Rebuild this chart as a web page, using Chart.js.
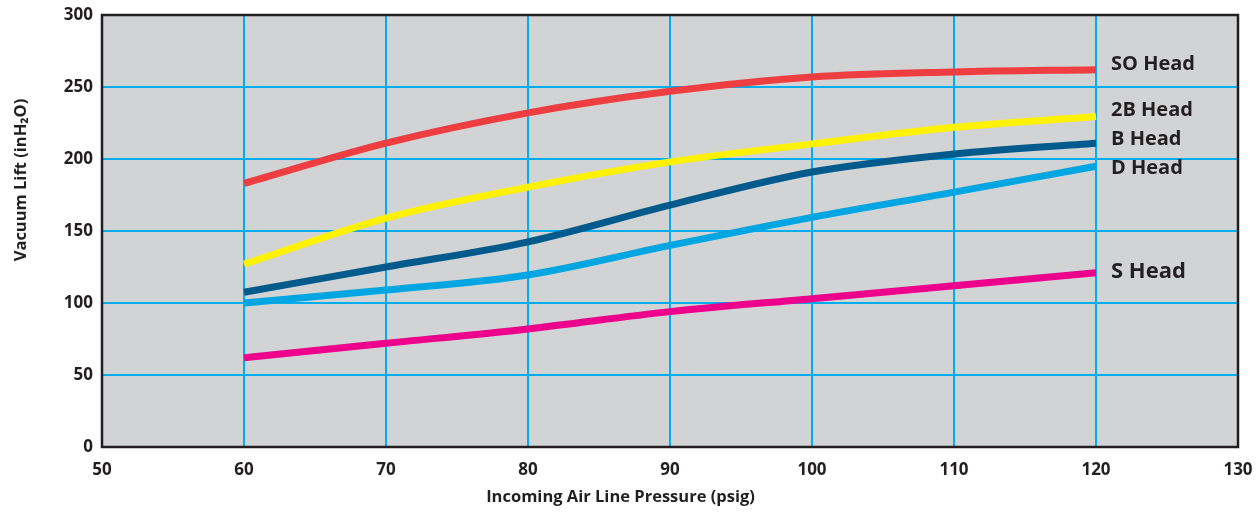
<!DOCTYPE html>
<html>
<head>
<meta charset="utf-8">
<script src="https://cdn.jsdelivr.net/npm/chart.js@4.4.1/dist/chart.umd.min.js"></script>
<style>
  html, body { margin: 0; padding: 0; background: #fff; }
  #wrap { width: 1257px; height: 512px; }
</style>
</head>
<body>
<div id="wrap"><canvas id="myChart"></canvas></div>
<script>
// pressure (psig)
const pressures = [60, 70, 80, 90, 100, 110, 120];

// vacuum lift (inH2O) per head
const soHead = [183, 211, 232, 247, 257, 260.5, 262];
const twoBHead = [127, 159, 180.5, 198, 210.5, 222, 229.5];
const bHead = [107.5, 125, 142.5, 168, 191, 203.5, 211];
const dHead = [100, 109, 119.5, 140, 159.5, 177, 195];
const sHead = [62, 72, 82, 94, 103, 112, 121];

const seriesNames = ['SO Head', '2B Head', 'B Head', 'D Head', 'S Head'];
const seriesColors = ['#ef3e42', '#fff200', '#005a8c', '#00a6e2', '#ec008c'];
// where the end labels sit, in inH2O
const labelValues = [266, 234, 214, 193.5, 122];

const xTicks = [50, 60, 70, 80, 90, 100, 110, 120, 130];
const yTicks = [0, 50, 100, 150, 200, 250, 300];

const xTitle = 'Incoming Air Line Pressure (psig)';
const yTitle = 'Vacuum Lift (inH₂O)';

const ink = '#231f20';
const gridBlue = '#00aeef';
const fontFamily = '"Open Sans", "DejaVu Sans", sans-serif';

const allSeries = [soHead, twoBHead, bHead, dHead, sHead];

const plotFrame = {
  id: 'plotFrame',
  beforeDraw(chart) {
    const { ctx, chartArea: a } = chart;
    ctx.save();
    ctx.fillStyle = '#d1d3d4';
    ctx.fillRect(a.left, a.top, a.right - a.left, a.bottom - a.top);
    ctx.restore();
  },
  afterDraw(chart) {
    const { ctx, chartArea: a, scales } = chart;
    ctx.save();
    ctx.strokeStyle = ink;
    ctx.lineWidth = 2.5;
    ctx.strokeRect(a.left, a.top, a.right - a.left, a.bottom - a.top);

    // end labels (S Head is set a bit larger in the original)
    ctx.fillStyle = ink;
    ctx.textBaseline = 'middle';
    ctx.textAlign = 'left';
    const x = scales.x.getPixelForValue(120) + 15;
    seriesNames.forEach((name, i) => {
      ctx.font = 'bold ' + (i === 4 ? 22 : 20) + 'px ' + fontFamily;
      ctx.fillText(name, x, scales.y.getPixelForValue(labelValues[i]));
    });

    // axis titles
    ctx.font = 'bold 16.5px ' + fontFamily;
    ctx.textAlign = 'center';
    ctx.fillText(xTitle, chart.width / 2 - 8, 497);
    ctx.translate(21, 180);
    ctx.rotate(-Math.PI / 2);
    ctx.fillText(yTitle, 0, 0);
    ctx.restore();
  }
};

document.addEventListener('DOMContentLoaded', () => {
  const ctx = document.getElementById('myChart').getContext('2d');

  new Chart(ctx, {
    type: 'line',
    data: {
      datasets: allSeries.map((vals, i) => ({
        label: seriesNames[i],
        data: pressures.map((p, j) => ({ x: p, y: vals[j] })),
        borderColor: seriesColors[i],
        borderWidth: 7,
        borderCapStyle: 'butt',
        pointRadius: 0,
        fill: false,
        cubicInterpolationMode: 'monotone'
      }))
    },
    options: {
      responsive: true,
      maintainAspectRatio: false,
      animation: false,
      layout: { padding: { top: 15, right: 19, left: 0, bottom: 0 } },
      plugins: {
        legend: { display: false },
        tooltip: { enabled: false }
      },
      scales: {
        x: {
          type: 'linear',
          min: 50,
          max: 130,
          afterBuildTicks: (scale) => { scale.ticks = xTicks.map(v => ({ value: v })); },
          afterFit: (scale) => {
            scale.height = 65;
            scale.paddingLeft = 0;
            scale.paddingRight = 0;
          },
          border: { display: false },
          grid: {
            color: (c) => (c.tick && (c.tick.value === 50 || c.tick.value === 130)) ? 'rgba(0,0,0,0)' : gridBlue,
            lineWidth: 2,
            drawTicks: false
          },
          ticks: {
            color: ink,
            padding: 13,
            maxRotation: 0,
            font: { family: fontFamily, size: 17, weight: 'bold' }
          }
        },
        y: {
          min: 0,
          max: 300,
          afterBuildTicks: (scale) => { scale.ticks = yTicks.map(v => ({ value: v })); },
          afterFit: (scale) => {
            scale.width = 102;
            scale.paddingTop = 0;
            scale.paddingBottom = 0;
          },
          border: { display: false },
          grid: {
            color: (c) => (c.tick && (c.tick.value === 0 || c.tick.value === 300)) ? 'rgba(0,0,0,0)' : gridBlue,
            lineWidth: 2,
            drawTicks: false
          },
          ticks: {
            color: ink,
            padding: 9,
            font: { family: fontFamily, size: 17, weight: 'bold' }
          }
        }
      }
    },
    plugins: [plotFrame]
  });
});
</script>
</body>
</html>
